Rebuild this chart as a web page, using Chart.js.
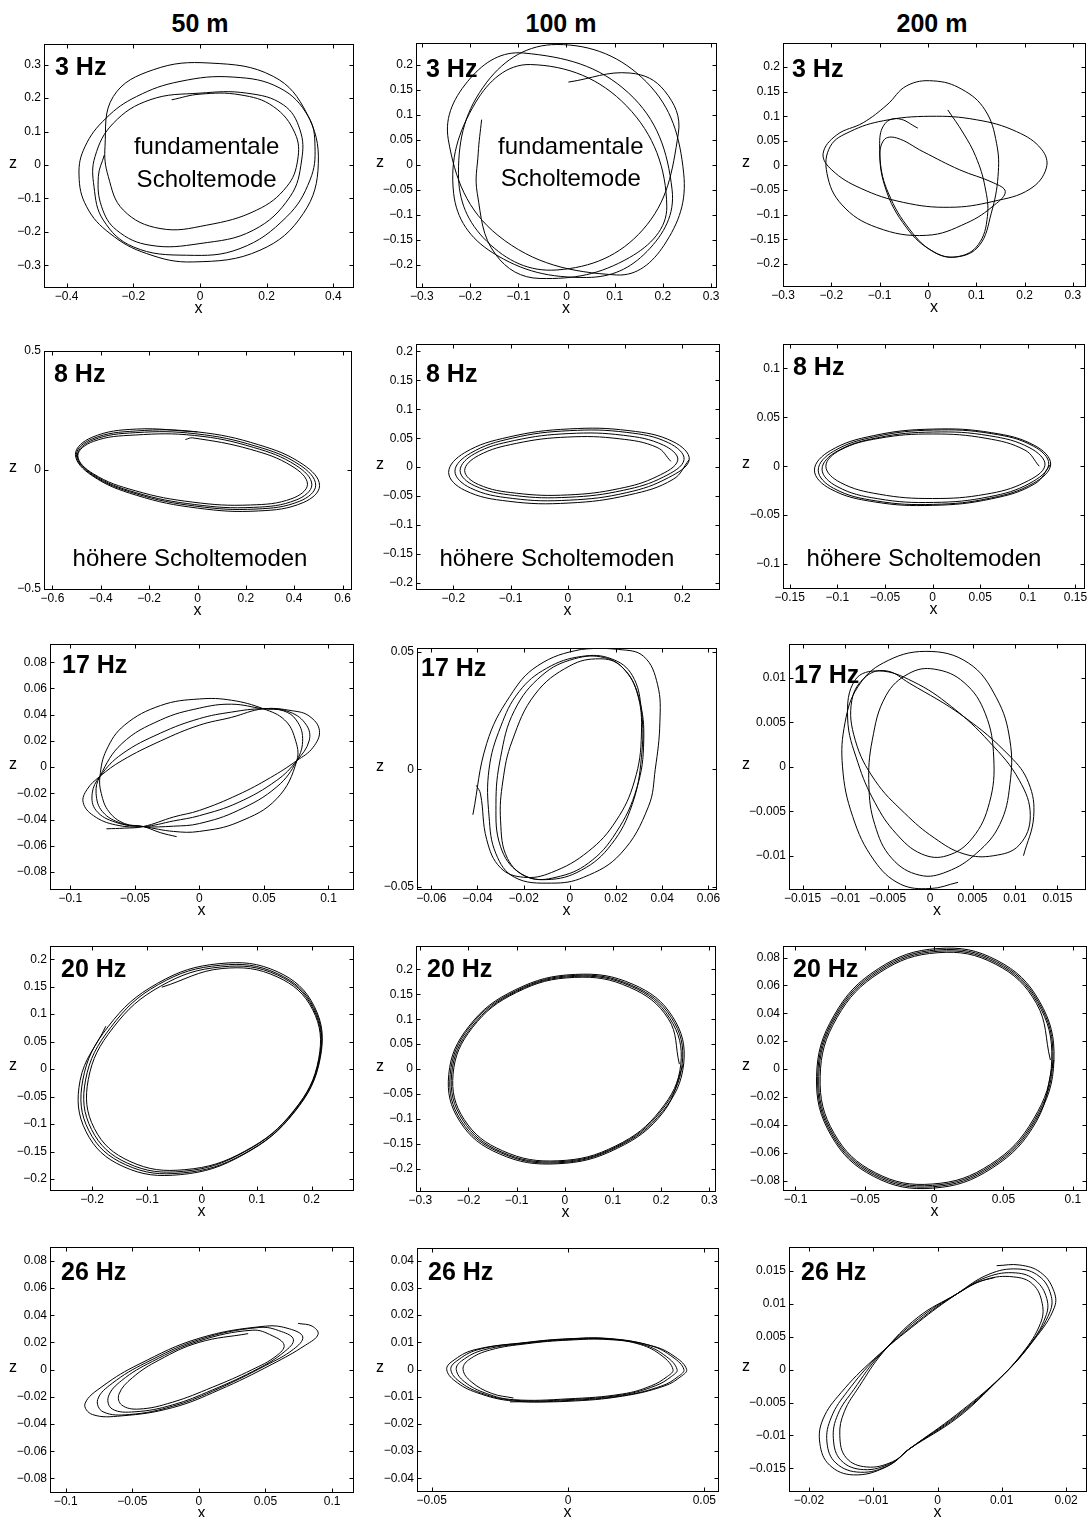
<!DOCTYPE html>
<html>
<head>
<meta charset="utf-8">
<script src="https://cdn.jsdelivr.net/npm/chart.js@4.4.1/dist/chart.umd.min.js"></script>
<style>
  body { margin: 0; background: #fff; }
  #page { position: relative; width: 1091px; height: 1517px; overflow: hidden;
          font-family: "Liberation Sans", Arial, sans-serif; }
  .col { position: absolute; top: 9px; line-height: 28px; font-weight: bold; font-size: 25px;
         transform: translateX(-50%); white-space: nowrap; }
  canvas { position: absolute; }
</style>
</head>
<body>
<div id="page">
  <div class="col" style="left:200px">50 m</div>
  <div class="col" style="left:561px">100 m</div>
  <div class="col" style="left:932px">200 m</div>
</div>
<script>
// particle motion traces [x, z]
const p50m3Hz = [[-0.287,0.030],[-0.305,-0.035],[-0.295,-0.125],[-0.25,-0.195],[-0.15,-0.24],[0.0,-0.235],[0.16,-0.195],[0.27,-0.095],[0.305,0.015],[0.30,0.105],[0.25,0.18],[0.14,0.215],[0.0,0.215],[-0.15,0.195],[-0.26,0.125],[-0.315,0.025],[-0.318,-0.065],[-0.29,-0.165],[-0.2,-0.245],[-0.04,-0.27],[0.12,-0.25],[0.26,-0.155],[0.33,-0.045],[0.345,0.055],[0.325,0.145],[0.24,0.23],[0.10,0.263],[-0.06,0.25],[-0.19,0.205],[-0.282,0.14],[-0.345,0.055],[-0.363,-0.03],[-0.34,-0.125],[-0.27,-0.205],[-0.16,-0.265],[-0.02,-0.29],[0.18,-0.255],[0.31,-0.145],[0.355,0.005],[0.32,0.155],[0.22,0.265],[0.03,0.305],[-0.14,0.285],[-0.26,0.205],[-0.285,0.055],[-0.275,-0.035],[-0.23,-0.135],[-0.12,-0.19],[0.02,-0.18],[0.17,-0.135],[0.26,-0.065],[0.293,0.015],[0.285,0.095],[0.22,0.175],[0.12,0.21],[0.0,0.212],[-0.085,0.195]];
const p100m3Hz = [[0.004,0.165],[0.132,0.183],[0.203,0.148],[0.232,0.063],[0.158,-0.130],[-0.020,-0.210],[-0.165,-0.153],[-0.224,-0.017],[-0.165,0.165],[-0.020,0.240],[0.166,0.165],[0.243,-0.017],[0.202,-0.161],[0.104,-0.220],[-0.142,-0.141],[-0.245,0.050],[-0.199,0.173],[-0.089,0.223],[0.129,0.143],[0.219,-0.050],[0.167,-0.173],[0.042,-0.225],[-0.154,-0.175],[-0.234,-0.057],[-0.188,0.125],[-0.075,0.200],[0.125,0.117],[0.208,-0.083],[0.131,-0.185],[-0.055,-0.227],[-0.147,-0.179],[-0.185,-0.057],[-0.183,0.023],[-0.176,0.090]];
const p200m3Hz = [[-0.021,0.076],[-0.061,0.095],[-0.089,0.085],[-0.100,0.045],[-0.089,-0.043],[-0.044,-0.127],[0.011,-0.175],[0.059,-0.186],[0.106,-0.163],[0.131,-0.097],[0.145,-0.022],[0.142,0.045],[0.118,0.113],[0.070,0.155],[0.011,0.172],[-0.044,0.162],[-0.085,0.123],[-0.134,0.087],[-0.189,0.062],[-0.217,0.024],[-0.199,-0.009],[-0.140,-0.046],[-0.051,-0.075],[0.045,-0.085],[0.135,-0.073],[0.211,-0.048],[0.245,-0.005],[0.235,0.033],[0.183,0.069],[0.100,0.093],[0.004,0.100],[-0.092,0.091],[-0.161,0.069],[-0.202,0.039],[-0.209,-0.016],[-0.178,-0.080],[-0.106,-0.126],[-0.003,-0.142],[0.080,-0.117],[0.138,-0.080],[0.160,-0.053],[0.135,-0.035],[0.066,-0.009],[-0.010,0.028],[-0.065,0.056],[-0.091,0.052],[-0.099,0.012],[-0.082,-0.056],[-0.037,-0.131],[0.014,-0.177],[0.063,-0.185],[0.104,-0.161],[0.123,-0.104],[0.118,-0.043],[0.099,0.018],[0.073,0.066],[0.041,0.113]];

const p50m8Hz = [[-0.05,0.128],
  [-0.02,0.135],[0.218,0.087],[0.391,0.016],[0.455,-0.06],[0.391,-0.12],[0.218,-0.147],[-0.02,-0.135],[-0.258,-0.087],[-0.431,-0.016],[-0.495,0.06],[-0.431,0.12],[-0.258,0.147],
  [-0.012,0.145],[0.231,0.095],[0.408,0.019],[0.473,-0.062],[0.408,-0.126],[0.231,-0.157],[-0.012,-0.145],[-0.255,-0.095],[-0.432,-0.019],[-0.497,0.062],[-0.432,0.126],[-0.255,0.157],
  [-0.006,0.152],[0.242,0.1],[0.423,0.021],[0.489,-0.064],[0.423,-0.131],[0.242,-0.164],[-0.006,-0.152],[-0.254,-0.1],[-0.435,-0.021],[-0.501,0.064],[-0.435,0.131],[-0.254,0.164],
  [0,0.16],[0.253,0.106],[0.437,0.023],[0.505,-0.066],[0.437,-0.137],[0.253,-0.172],[0,-0.16],[-0.253,-0.106],[-0.437,-0.023],[-0.505,0.066],[-0.437,0.137],[-0.253,0.172],[0,0.16]];
const p100m8Hz = [
  [0.18,0.010],[0.156,0.034],[0.09,0.049],[0,0.052],[-0.09,0.041],[-0.156,0.020],[-0.18,-0.006],[-0.156,-0.030],[-0.09,-0.045],[0,-0.048],[0.09,-0.037],[0.156,-0.016],
  [0.192,0.012],[0.167,0.038],[0.097,0.055],[0.002,0.058],[-0.093,0.046],[-0.163,0.023],[-0.188,-0.006],[-0.163,-0.032],[-0.093,-0.049],[0.002,-0.052],[0.097,-0.040],[0.167,-0.017],
  [0.203,0.013],[0.176,0.042],[0.103,0.060],[0.003,0.063],[-0.097,0.050],[-0.170,0.024],[-0.197,-0.007],[-0.170,-0.036],[-0.097,-0.054],[0.003,-0.057],[0.103,-0.044],[0.176,-0.018],
  [0.212,0.013],[0.184,0.044],[0.107,0.063],[0.002,0.066],[-0.103,0.052],[-0.180,0.025],[-0.208,-0.009],[-0.180,-0.040],[-0.103,-0.059],[0.002,-0.062],[0.107,-0.048],[0.184,-0.021],[0.212,0.013]];
const p200m8Hz = [
  [0.112,0],[0.097,0.0165],[0.056,0.0286],[0,0.033],[-0.056,0.0286],[-0.097,0.0165],[-0.112,0],[-0.097,-0.0165],[-0.056,-0.0286],[0,-0.033],[0.056,-0.0286],[0.097,-0.0165],
  [0.118,0.001],[0.1023,0.0187],[0.0595,0.0312],[0.001,0.035],[-0.0575,0.0292],[-0.1003,0.0153],[-0.116,-0.003],[-0.1003,-0.0207],[-0.0575,-0.0332],[0.001,-0.037],[0.0595,-0.0312],[0.1023,-0.0173],
  [0.122,0.002],[0.1058,0.0206],[0.0615,0.0334],[0.001,0.037],[-0.0595,0.0304],[-0.1038,0.0154],[-0.120,-0.004],[-0.1038,-0.0226],[-0.0595,-0.0354],[0.001,-0.039],[0.0615,-0.0324],[0.1058,-0.0174],
  [0.124,0.002],[0.1074,0.0211],[0.062,0.0343],[0,0.038],[-0.062,0.0313],[-0.1074,0.0159],[-0.124,-0.004],[-0.1074,-0.0231],[-0.062,-0.0363],[0,-0.040],[0.062,-0.0333],[0.1074,-0.0179],[0.124,0.002]];

const p50m17Hz = [[-0.072,-0.047],[-0.058,-0.0465],[-0.0434,-0.0453],
  [-0.02,-0.038],[0.0,-0.033],[0.03,-0.021],[0.055,-0.008],[0.0755,0.005],[0.088,0.015],[0.093,0.028],[0.085,0.039],[0.072,0.043],[0.0496,0.0445],[0.025,0.038],[0.0,0.032],[-0.03,0.02],[-0.06,0.005],[-0.077,-0.007],[-0.087,-0.017],[-0.09,-0.027],[-0.082,-0.037],[-0.065,-0.044],[-0.0434,-0.0453],
  [-0.02,-0.041],[0.0,-0.037],[0.03,-0.027],[0.06,-0.01],[0.0755,0.005],[0.085,0.02],[0.083,0.032],[0.07,0.042],[0.0496,0.0445],[0.025,0.042],[0.0,0.037],[-0.03,0.026],[-0.06,0.01],[-0.077,-0.007],[-0.083,-0.02],[-0.08,-0.033],[-0.065,-0.042],[-0.0434,-0.0453],
  [-0.02,-0.045],[0.0,-0.043],[0.03,-0.033],[0.06,-0.015],[0.0755,0.005],[0.08,0.022],[0.075,0.036],[0.065,0.043],[0.0496,0.0445],[0.025,0.048],[0.0,0.045],[-0.03,0.036],[-0.06,0.018],[-0.077,-0.007],[-0.08,-0.02],[-0.075,-0.034],[-0.06,-0.043],[-0.0434,-0.0453],
  [-0.02,-0.049],[0.0,-0.049],[0.03,-0.042],[0.06,-0.024],[0.0755,0.005],[0.074,0.022],[0.066,0.036],[0.0496,0.0445],[0.025,0.051],[0.0,0.052],[-0.03,0.047],[-0.058,0.032],[-0.072,0.013],[-0.077,-0.007],[-0.076,-0.02],[-0.07,-0.034],[-0.058,-0.043],[-0.0434,-0.0453],[-0.03,-0.05],[-0.0176,-0.053]];
const p100m17Hz = [[-0.042,-0.0194],[-0.036,0.011],[-0.026,0.031],[-0.014,0.044],[0.005,0.051],[0.021,0.051],[0.032,0.048],[0.038,0.036],[0.039,0.02],[0.037,0.0],[0.034,-0.016],[0.022,-0.036],[0.006,-0.046],[-0.008,-0.0485],[-0.024,-0.046],[-0.032,-0.036],[-0.035,-0.02],[-0.035,0.0],[-0.03,0.018],
  [-0.022,0.033],[-0.01,0.043],[0.005,0.048],[0.018,0.047],[0.027,0.04],[0.031,0.025],[0.031,0.005],[0.027,-0.015],[0.018,-0.032],[0.005,-0.043],[-0.01,-0.047],[-0.022,-0.044],[-0.03,-0.033],[-0.032,-0.015],[-0.03,0.005],
  [-0.024,0.025],[-0.012,0.04],[0.002,0.047],[0.015,0.0475],[0.024,0.042],[0.03,0.03],[0.032,0.012],[0.029,-0.008],[0.02,-0.027],[0.008,-0.04],[-0.006,-0.046],[-0.018,-0.046],[-0.027,-0.038],[-0.03,-0.022],[-0.029,-0.005],
  [-0.025,0.012],[-0.015,0.032],[0.0,0.044],[0.013,0.047],[0.022,0.044],[0.029,0.033],[0.031,0.015],[0.028,-0.005],[0.02,-0.022],[0.008,-0.035],[-0.008,-0.044],[-0.02,-0.046],[-0.03,-0.042],[-0.036,-0.03],[-0.0387,-0.0105],[-0.0405,-0.0069]];
const p200m17Hz = [[0.0033,-0.0130],[0.0,-0.0137],[-0.0035,-0.0132],[-0.0066,-0.0105],[-0.0091,-0.0056],[-0.0103,0.0],[-0.0100,0.0050],[-0.0085,0.0090],[-0.0055,0.0117],[-0.0005,0.0130],[0.0045,0.0117],[0.0078,0.0078],[0.0094,0.0030],[0.0094,-0.0020],[0.0082,-0.0065],[0.0055,-0.0097],[0.0020,-0.0118],[-0.0012,-0.0122],[-0.0045,-0.0103],[-0.0065,-0.0065],[-0.0072,-0.0020],[-0.0068,0.0030],[-0.0052,0.0080],[-0.0025,0.0105],[0.0005,0.0110],[0.0040,0.0095],[0.0065,0.0060],[0.0075,0.0010],[0.0070,-0.0040],[0.0050,-0.0080],[0.0020,-0.0100],[-0.0010,-0.0098],[-0.0040,-0.0075],[-0.0065,-0.0040],[-0.0085,0.0005],[-0.0097,0.0055],[-0.0088,0.0098],[-0.0060,0.0108],[-0.0020,0.0096],[0.0025,0.0068],[0.0070,0.0028],[0.0105,-0.0015],[0.0118,-0.0055],[0.0105,-0.0088],[0.0075,-0.0100],[0.0040,-0.0098],[0.0005,-0.0080],[-0.0030,-0.0052],[-0.0065,-0.0015],[-0.0088,0.0030],[-0.0092,0.0075],[-0.0075,0.0102],[-0.0051,0.0108],[-0.0024,0.0094],[0.0039,0.0057],[0.0094,0.0012],[0.0116,-0.0018],[0.0122,-0.0056],[0.0110,-0.0100]];

const p50m20Hz = [
  [-0.073,0.149],[0.037,0.183],[0.137,0.168],[0.202,0.108],[0.213,0.019],[0.168,-0.075],[0.079,-0.149],[-0.031,-0.183],[-0.131,-0.168],[-0.196,-0.108],[-0.207,-0.019],[-0.162,0.075],
  [-0.075,0.151],[0.036,0.186],[0.138,0.171],[0.203,0.110],[0.214,0.020],[0.168,-0.076],[0.077,-0.151],[-0.034,-0.186],[-0.136,-0.171],[-0.201,-0.110],[-0.212,-0.020],[-0.166,0.076],
  [-0.079,0.154],[0.034,0.189],[0.137,0.174],[0.204,0.112],[0.215,0.020],[0.169,-0.077],[0.077,-0.154],[-0.036,-0.189],[-0.139,-0.174],[-0.206,-0.112],[-0.217,-0.020],[-0.171,0.077],
  [-0.081,0.156],[0.033,0.192],[0.138,0.177],[0.205,0.114],[0.216,0.021],[0.169,-0.078],[0.075,-0.156],[-0.039,-0.192],[-0.144,-0.177],[-0.211,-0.114],[-0.222,-0.021],[-0.175,0.078]];
const p100m20Hz = [
  [0.238,0.010],[0.215,0.101],[0.135,0.164],[0.020,0.184],[-0.100,0.154],[-0.192,0.083],[-0.232,-0.010],[-0.209,-0.101],[-0.129,-0.164],[-0.014,-0.184],[0.106,-0.154],[0.198,-0.083],
  [0.241,0.010],[0.218,0.102],[0.138,0.166],[0.021,0.186],[-0.100,0.156],[-0.194,0.084],[-0.235,-0.010],[-0.212,-0.102],[-0.132,-0.166],[-0.015,-0.186],[0.106,-0.156],[0.200,-0.084],
  [0.244,0.011],[0.221,0.104],[0.139,0.168],[0.021,0.188],[-0.102,0.157],[-0.197,0.085],[-0.238,-0.011],[-0.215,-0.104],[-0.133,-0.168],[-0.015,-0.188],[0.108,-0.157],[0.203,-0.085],
  [0.247,0.011],[0.224,0.105],[0.142,0.170],[0.022,0.190],[-0.103,0.159],[-0.199,0.086],[-0.241,-0.011],[-0.218,-0.105],[-0.136,-0.170],[-0.016,-0.190],[0.109,-0.159],[0.205,-0.086],[0.247,0.011]];
const p200m20Hz = [
  [0.0838,0.0065],[0.0737,0.0472],[0.0440,0.0754],[0.0028,0.0835],[-0.0390,0.0694],[-0.0701,0.0368],[-0.0822,-0.0055],[-0.0721,-0.0462],[-0.0424,-0.0744],[-0.0012,-0.0825],[0.0406,-0.0684],[0.0717,-0.0358],
  [0.0848,0.0065],[0.0745,0.0477],[0.0445,0.0762],[0.0028,0.0845],[-0.0395,0.0702],[-0.0709,0.0373],[-0.0832,-0.0055],[-0.0729,-0.0467],[-0.0429,-0.0752],[-0.0012,-0.0835],[0.0411,-0.0692],[0.0725,-0.0363],
  [0.0856,0.0065],[0.0752,0.0482],[0.0449,0.0771],[0.0028,0.0855],[-0.0399,0.0711],[-0.0716,0.0378],[-0.0840,-0.0055],[-0.0736,-0.0472],[-0.0433,-0.0761],[-0.0012,-0.0845],[0.0415,-0.0701],[0.0732,-0.0368],
  [0.0864,0.0065],[0.0759,0.0487],[0.0453,0.0780],[0.0028,0.0865],[-0.0403,0.0720],[-0.0723,0.0383],[-0.0848,-0.0055],[-0.0743,-0.0477],[-0.0437,-0.0770],[-0.0012,-0.0855],[0.0419,-0.0710],[0.0739,-0.0373],[0.0864,0.0065]];

const p50m26Hz = [[0.037,0.0265],
  [0.0,0.020],[-0.03,0.007],[-0.050,-0.006],[-0.060,-0.018],[-0.058,-0.026],[-0.045,-0.029],[-0.02,-0.024],[0.01,-0.013],[0.04,0.000],[0.058,0.010],[0.064,0.018],[0.055,0.025],[0.04,0.029],
  [0.0,0.021],[-0.035,0.006],[-0.058,-0.008],[-0.068,-0.020],[-0.065,-0.029],[-0.048,-0.031],[-0.02,-0.026],[0.01,-0.015],[0.045,0.001],[0.064,0.013],[0.071,0.022],[0.062,0.028],[0.045,0.031],
  [0.0,0.022],[-0.04,0.005],[-0.065,-0.010],[-0.076,-0.022],[-0.072,-0.031],[-0.052,-0.033],[-0.02,-0.027],[0.01,-0.016],[0.05,0.003],[0.071,0.015],[0.078,0.024],[0.068,0.030],[0.05,0.032],
  [0.0,0.023],[-0.045,0.004],[-0.072,-0.012],[-0.0855,-0.025],[-0.080,-0.033],[-0.058,-0.034],[-0.02,-0.028],[0.015,-0.015],[0.055,0.004],[0.080,0.018],[0.0895,0.026],[0.085,0.032],[0.0745,0.034]];
const p100m26Hz = [[-0.0213,-0.0119],
  [0.0,-0.0117],[0.02,-0.0098],[0.0355,-0.006],[0.0415,-0.0025],[0.0435,0.0],[0.0395,0.0045],[0.0315,0.0085],[0.015,0.0113],[0.0,0.0113],[-0.015,0.0100],[-0.0345,0.0072],[-0.0425,0.003],[-0.0445,0.0],[-0.0415,-0.0042],[-0.0335,-0.0085],
  [-0.02,-0.0116],[0.0,-0.0114],[0.02,-0.0096],[0.0345,-0.006],[0.0405,-0.0025],[0.0425,0.0],[0.0385,0.0045],[0.0305,0.0087],[0.015,0.0114],[0.0,0.0112],[-0.015,0.0099],[-0.033,0.0073],[-0.041,0.003],[-0.043,0.0],[-0.040,-0.0043],[-0.032,-0.0086],
  [-0.02,-0.0113],[0.0,-0.0111],[0.02,-0.0093],[0.032,-0.006],[0.038,-0.0025],[0.040,0.0],[0.036,0.0048],[0.028,0.009],[0.015,0.0112],[0.0,0.011],[-0.015,0.0097],[-0.031,0.0072],[-0.039,0.0032],[-0.041,0.0],[-0.038,-0.0045],[-0.03,-0.0088],
  [-0.02,-0.0111],[0.0,-0.0108],[0.02,-0.009],[0.0305,-0.006],[0.0365,-0.0025],[0.0385,0.0],[0.0345,0.005],[0.0265,0.0092],[0.015,0.011],[0.0,0.0108],[-0.015,0.0095],[-0.0285,0.0072],[-0.0365,0.0035],[-0.0385,0.0],[-0.0355,-0.0045],[-0.028,-0.0088],[-0.02,-0.0105]];
const p200m26Hz = [[0.0092,0.0158],
  [0.0128,0.0159],[0.0160,0.0148],[0.0180,0.0122],[0.0182,0.0095],[0.0150,0.0045],[0.0100,-0.0010],[0.0030,-0.0068],[-0.0043,-0.0120],[-0.0080,-0.0148],[-0.0131,-0.0160],[-0.0168,-0.0145],[-0.0183,-0.0112],[-0.0178,-0.0075],[-0.0150,-0.0035],[-0.0100,0.0015],[-0.0030,0.0072],[0.0030,0.0115],[0.0080,0.0145],
  [0.0125,0.0153],[0.0158,0.0142],[0.0176,0.0115],[0.0175,0.0088],[0.0145,0.0040],[0.0095,-0.0015],[0.0030,-0.0070],[-0.0043,-0.0120],[-0.0075,-0.0145],[-0.0120,-0.0156],[-0.0158,-0.0142],[-0.0172,-0.0110],[-0.0165,-0.0072],[-0.0140,-0.0033],[-0.0095,0.0018],[-0.0030,0.0074],[0.0030,0.0115],[0.0078,0.0141],
  [0.0122,0.0147],[0.0152,0.0136],[0.0170,0.0108],[0.0168,0.0080],[0.0140,0.0033],[0.0090,-0.0020],[0.0030,-0.0072],[-0.0043,-0.0120],[-0.0072,-0.0142],[-0.0115,-0.0152],[-0.0150,-0.0138],[-0.0162,-0.0105],[-0.0155,-0.0068],[-0.0130,-0.0030],[-0.0090,0.0022],[-0.0030,0.0077],[0.0030,0.0115],[0.0075,0.0137],
  [0.0118,0.0141],[0.0148,0.0130],[0.0163,0.0100],[0.0160,0.0070],[0.0132,0.0025],[0.0085,-0.0025],[0.0030,-0.0074],[-0.0043,-0.0120],[-0.0070,-0.0140],[-0.0110,-0.0148],[-0.0142,-0.0134],[-0.0152,-0.0100],[-0.0145,-0.0064],[-0.0122,-0.0026],[-0.0085,0.0026],[-0.0030,0.0080],[0.0030,0.0115],[0.0060,0.0132],[0.0089,0.0140]];

// tick values
const xt50m3 = [-0.4,-0.2,0,0.2,0.4], zt50m3 = [-0.3,-0.2,-0.1,0,0.1,0.2,0.3];
const xt3dot = [-0.3,-0.2,-0.1,0,0.1,0.2,0.3];
const zt02 = [-0.2,-0.15,-0.1,-0.05,0,0.05,0.1,0.15,0.2];
const xt50m8 = [-0.6,-0.4,-0.2,0,0.2,0.4,0.6], zt50m8 = [-0.5,0,0.5];
const xt02 = [-0.2,-0.1,0,0.1,0.2];
const xt015 = [-0.15,-0.1,-0.05,0,0.05,0.1,0.15], zt01 = [-0.1,-0.05,0,0.05,0.1];
const xt01 = [-0.1,-0.05,0,0.05,0.1], zt008 = [-0.08,-0.06,-0.04,-0.02,0,0.02,0.04,0.06,0.08];
const xt006 = [-0.06,-0.04,-0.02,0,0.02,0.04,0.06], zt005 = [-0.05,0,0.05];
const xt0015 = [-0.015,-0.01,-0.005,0,0.005,0.01,0.015], zt001 = [-0.01,-0.005,0,0.005,0.01];
const xt005 = [-0.05,0,0.05], zt004 = [-0.04,-0.03,-0.02,-0.01,0,0.01,0.02,0.03,0.04];
const xt002 = [-0.02,-0.01,0,0.01,0.02], zt0015 = [-0.015,-0.01,-0.005,0,0.005,0.01,0.015];

const colZ = [13, 380, 746];

const panels = [
  {box:[44,44,353,287], col:0, xr:[-0.468,0.459], zr:[-0.365,0.362], xt:xt50m3, zt:zt50m3, pts:p50m3Hz, hz:'3 Hz', hzAt:[11,24],
   notes:[['fundamentale',0.02,0.052],['Scholtemode',0.02,-0.045]]},
  {box:[416,43,716,287], col:1, xr:[-0.312,0.31], zr:[-0.244,0.243], xt:xt3dot, zt:zt02, pts:p100m3Hz, hz:'3 Hz', hzAt:[10,27],
   notes:[['fundamentale',0.009,0.035],['Scholtemode',0.009,-0.030]]},
  {box:[783,43,1085,286], col:2, xr:[-0.3,0.325], zr:[-0.245,0.249], xt:xt3dot, zt:zt02, pts:p200m3Hz, hz:'3 Hz', hzAt:[9,27]},
  {box:[44,351,351,589], col:0, xr:[-0.635,0.635], zr:[-0.5,0.5], xt:xt50m8, zt:zt50m8, pts:p50m8Hz, hz:'8 Hz', hzAt:[10,24],
   notes:[['höhere Scholtemoden',-0.031,-0.375]]},
  {box:[416,344,719,589], col:1, xr:[-0.265,0.264], zr:[-0.2105,0.2127], xt:xt02, zt:zt02, pts:p100m8Hz, hz:'8 Hz', hzAt:[10,31],
   notes:[['höhere Scholtemoden',-0.019,-0.159]]},
  {box:[783,344,1084,588], col:2, xr:[-0.157,0.159], zr:[-0.1245,0.125], xt:xt015, zt:zt01, pts:p200m8Hz, hz:'8 Hz', hzAt:[10,24],
   notes:[['höhere Scholtemoden',-0.009,-0.0948]]},
  {box:[50,644,353,889], col:0, xr:[-0.1157,0.119], zr:[-0.0929,0.0939], xt:xt01, zt:zt008, pts:p50m17Hz, hz:'17 Hz', hzAt:[12,22]},
  {box:[417,648,716,889], col:1, xr:[-0.0662,0.0633], zr:[-0.051,0.0516], xt:xt006, zt:zt005, pts:p100m17Hz, hz:'17 Hz', hzAt:[4,21]},
  {box:[789,644,1085,889], col:2, xr:[-0.0166,0.01824], zr:[-0.01375,0.01383], xt:xt0015, zt:zt001, pts:p200m17Hz, hz:'17 Hz', hzAt:[5,32]},
  {box:[50,946,353,1190], col:0, xr:[-0.2768,0.2755], zr:[-0.22,0.224], xt:xt02, zt:zt02, pts:p50m20Hz, hz:'20 Hz', hzAt:[11,24]},
  {box:[416,946,715,1191], col:1, xr:[-0.309,0.312], zr:[-0.2446,0.247], xt:xt3dot, zt:zt02, pts:p100m20Hz, hz:'20 Hz', hzAt:[11,24]},
  {box:[783,946,1086,1190], col:2, xr:[-0.109,0.1095], zr:[-0.0868,0.0883], xt:xt01, zt:zt008, pts:p200m20Hz, hz:'20 Hz', hzAt:[10,24]},
  {box:[50,1247,353,1492], col:0, xr:[-0.1118,0.1157], zr:[-0.09,0.0902], xt:xt01, zt:zt008, pts:p50m26Hz, hz:'26 Hz', hzAt:[11,26]},
  {box:[417,1248,718,1491], col:1, xr:[-0.0554,0.055], zr:[-0.0447,0.0447], xt:xt005, zt:zt004, pts:p100m26Hz, hz:'26 Hz', hzAt:[11,25]},
  {box:[789,1247,1086,1491], col:2, xr:[-0.0231,0.0231], zr:[-0.01845,0.01864], xt:xt002, zt:zt0015, pts:p200m26Hz, hz:'26 Hz', hzAt:[12,26]}
];

const FONT = '"Liberation Sans", Arial, sans-serif';
const fmt = v => v === 0 ? '0' : String(v).replace('-', '\u2212');

// box, inward ticks, axis letters and in-plot labels (MATLAB look)
const framePlugin = {
  id: 'frame',
  afterDraw(chart, args, o) {
    const {ctx, chartArea: a, scales: {x, y}} = chart;
    ctx.save();
    ctx.strokeStyle = '#000';
    ctx.lineWidth = 1;
    const L = Math.round(a.left) + 0.5, T = Math.round(a.top) + 0.5;
    const R = Math.round(a.right) + 0.5, B = Math.round(a.bottom) + 0.5;
    ctx.strokeRect(L, T, R - L, B - T);
    ctx.beginPath();
    x.ticks.forEach(t => {
      const px = Math.round(x.getPixelForValue(t.value)) + 0.5;
      ctx.moveTo(px, B); ctx.lineTo(px, B - 4);
      ctx.moveTo(px, T); ctx.lineTo(px, T + 4);
    });
    y.ticks.forEach(t => {
      const py = Math.round(y.getPixelForValue(t.value)) + 0.5;
      ctx.moveTo(L, py); ctx.lineTo(L + 4, py);
      ctx.moveTo(R, py); ctx.lineTo(R - 4, py);
    });
    ctx.stroke();

    ctx.fillStyle = '#000';
    ctx.textBaseline = 'middle';
    ctx.textAlign = 'center';
    ctx.font = '16px ' + FONT;
    ctx.fillText('x', (a.left + a.right) / 2, a.bottom + 22);
    ctx.fillText('z', o.zx, (a.top + a.bottom) / 2 - 2);

    ctx.font = '24px ' + FONT;
    (o.notes || []).forEach(([txt, nx, nz]) => {
      ctx.fillText(txt, x.getPixelForValue(nx), y.getPixelForValue(nz));
    });

    ctx.textAlign = 'left';
    ctx.font = 'bold 25px ' + FONT;
    ctx.fillText(o.hz, a.left + o.hzAt[0], a.top + o.hzAt[1]);
    ctx.restore();
  }
};

const page = document.getElementById('page');
const PT = 12, PR = 8, XH = 34;

panels.forEach(p => {
  const [bl, bt, br, bb] = p.box;
  const left = colZ[p.col] - 10;
  const top = bt - PT;
  const w = br + PR - left;
  const h = bb + XH - top;
  const cv = document.createElement('canvas');
  cv.width = w; cv.height = h;
  cv.style.left = left + 'px';
  cv.style.top = top + 'px';
  cv.style.width = w + 'px';
  cv.style.height = h + 'px';
  page.appendChild(cv);

  const tickFont = {family: FONT, size: 12};
  new Chart(cv, {
    type: 'scatter',
    data: {
      datasets: [{
        data: p.pts.map(([px, pz]) => ({x: px, y: pz})),
        showLine: true,
        borderColor: '#000',
        borderWidth: 1,
        pointRadius: 0,
        tension: 0.4,
        fill: false
      }]
    },
    options: {
      responsive: false,
      animation: false,
      devicePixelRatio: 1,
      layout: {padding: {top: PT, right: PR, left: 0, bottom: 0}},
      plugins: {
        legend: {display: false},
        tooltip: {enabled: false},
        frame: {zx: colZ[p.col] - left, hz: p.hz, hzAt: p.hzAt, notes: p.notes}
      },
      scales: {
        x: {
          type: 'linear', min: p.xr[0], max: p.xr[1],
          afterBuildTicks: s => { s.ticks = p.xt.map(v => ({value: v})); },
          afterFit: s => { s.height = XH; },
          grid: {display: false, drawTicks: false},
          border: {display: false},
          ticks: {padding: 2, color: '#000', font: tickFont, maxRotation: 0, autoSkip: false,
                  callback: v => fmt(v)}
        },
        y: {
          type: 'linear', min: p.zr[0], max: p.zr[1],
          afterBuildTicks: s => { s.ticks = p.zt.map(v => ({value: v})); },
          afterFit: s => { s.width = bl - left; },
          grid: {display: false, drawTicks: false},
          border: {display: false},
          ticks: {padding: 3, color: '#000', font: tickFont, autoSkip: false,
                  callback: v => fmt(v)}
        }
      }
    },
    plugins: [framePlugin]
  });
});
</script>
</body>
</html>
